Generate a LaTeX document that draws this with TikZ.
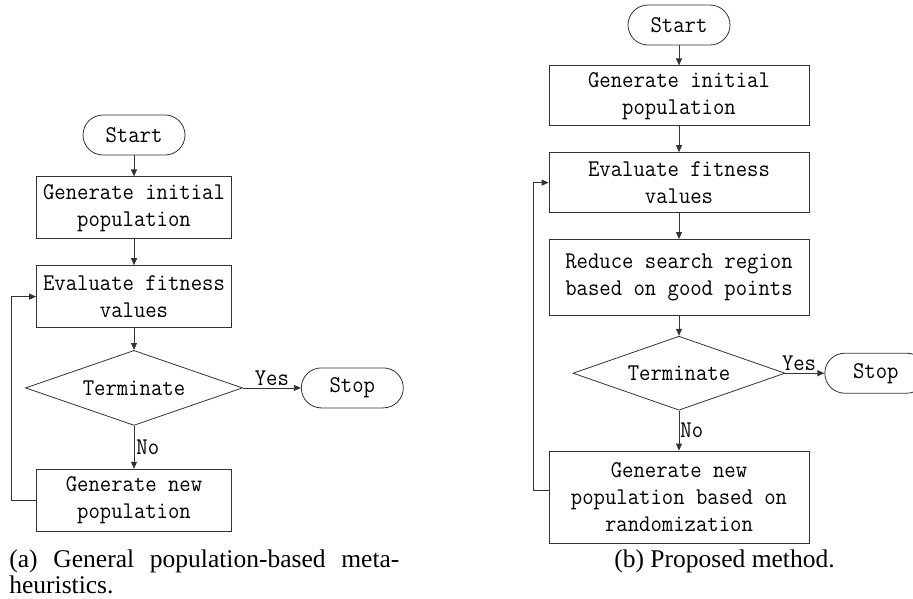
\documentclass[tikz,border=0pt]{standalone}
\usepackage{fontspec}
\setmainfont{Liberation Serif}
\newfontfamily\flowfont[FakeStretch=0.92]{Latin Modern Mono}
\newcommand\flowtext{\flowfont\fontsize{24}{27}\selectfont}
\usetikzlibrary{positioning,shapes.geometric,arrows.meta}
\tikzset{term/.style={draw=black!80,rounded corners=20pt,minimum width=102pt,minimum height=40pt,inner sep=0pt,font=\flowtext},
	 proc/.style={draw=black!80,rectangle,minimum width=195pt,minimum height=62pt,inner sep=0pt,align=center,font=\flowtext},
	 wproc/.style={proc,minimum width=260pt,minimum height=60pt},
	 dec/.style={draw=black!80,diamond,aspect=2.9,minimum width=217pt,minimum height=75pt,inner sep=0pt,font=\flowtext},
	 flow/.style={draw=black!80,line width=0.8pt,-{Triangle[length=7pt,width=6pt]}},
	 lab/.style={font=\flowtext,inner sep=2pt},
	 captext/.style={font=\fontsize{25.5}{26}\selectfont,inner sep=0pt},
	 node distance = 26pt
	 }

\begin{document}
\begin{tikzpicture}[x=1pt,y=1pt,line width=0.8pt]
	\useasboundingbox (0,0) rectangle (913,-598);
	% (a) general scheme
	\node[term] (start1) at (134,-135) {Start};
	\node[proc] (init1) [below=21pt of start1] {Generate initial\\population};
	\node[proc] (eval1) [below= of init1] {Evaluate fitness\\values};
	\node[dec] (term1) [below=22pt of eval1] {Terminate};
	\node[term] (stop1) [right=58pt of term1] {Stop};
	\node[proc] (new1) [below=43pt of term1] {Generate new\\population};
	\draw[flow] (start1) to (init1);
	\draw[flow] (init1) to (eval1);
	\draw[flow] (eval1) to (term1);
	\draw[flow] (term1) to node[lab,above] {Yes} (stop1);
	\draw[flow] (term1) to node[lab,right] {No} (new1);
	\draw[flow] (new1.west) -- ++(-25,0) |- (eval1.west);
	% (b) proposed method
	\node[term] (start2) at (679,-25) {Start};
	\node[wproc] (init2) [below=20pt of start2] {Generate initial\\population};
	\node[wproc] (eval2) [below= of init2] {Evaluate fitness\\values};
	\node[wproc,minimum height=76pt] (reduce2) [below= of eval2] {Reduce search region\\based on good points};
	\node[dec,aspect=2.86,minimum width=212pt,minimum height=74pt] (term2) [below=20pt of reduce2] {Terminate};
	\node[term] (stop2) [right=39pt of term2] {Stop};
	\node[wproc,minimum height=92pt] (new2) [below=40pt of term2] {Generate new\\population based on\\randomization};
	\draw[flow] (start2) to (init2);
	\draw[flow] (init2) to (eval2);
	\draw[flow] (eval2) to (reduce2);
	\draw[flow] (reduce2) to (term2);
	\draw[flow] (term2) to node[lab,above,pos=0.35] {Yes} (stop2);
	\draw[flow] (term2) to node[lab,right,inner sep=1pt] {No} (new2);
	\draw[flow] ([yshift=7pt]new2.west) -- ++(-15,0) |- (eval2.west);
	% captions
	\node[captext,text width=390pt,align=justify,anchor=base west] (capa) at (9,-567) {(a) General population-based meta-\linebreak heuristics.};
	\node[captext,anchor=base] (capb) at (724.5,-567) {(b) Proposed method.};
\end{tikzpicture}
\end{document}
